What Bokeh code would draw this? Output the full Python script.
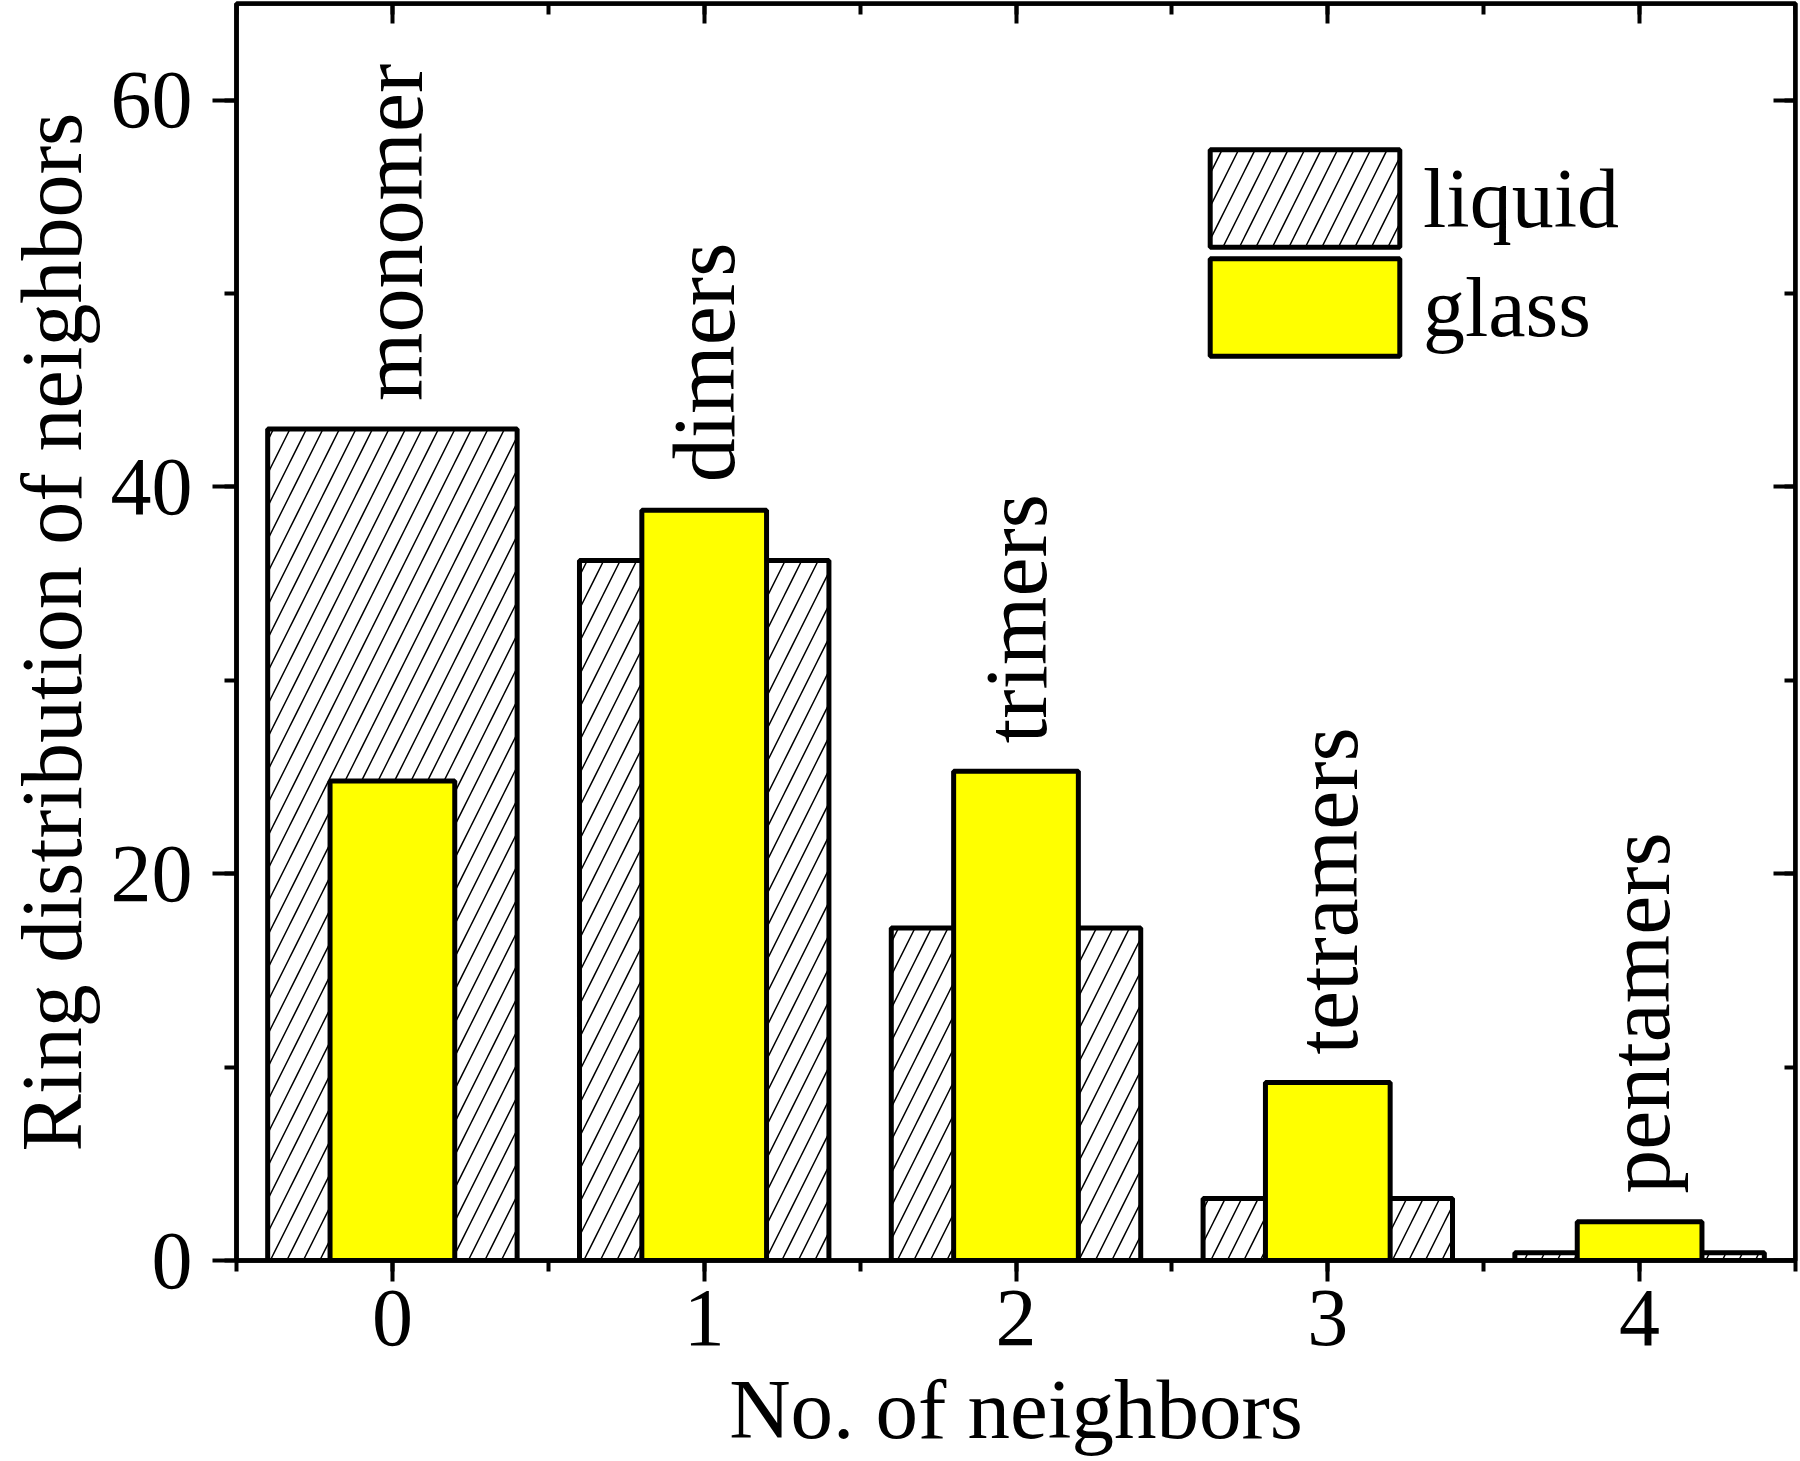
import numpy as np
from bokeh.plotting import figure
from bokeh.models import (ColumnDataSource, LinearAxis, SingleIntervalTicker, Range1d,
                          Legend, LegendItem, CustomJSTickFormatter)
from bokeh.core.properties import value
from bokeh.embed import file_html
from bokeh.resources import INLINE

# ---- data ----
neighbors = [0, 1, 2, 3, 4]
liquid = [43.0, 36.2, 17.2, 3.2, 0.4]
glass = [24.8, 38.8, 25.3, 9.2, 2.0]
cluster_names = ["monomer", "dimers", "trimers", "tetramers", "pentamers"]
series_names = ["liquid", "glass"]
x_label = "No. of neighbors"
y_label = "Ring distribution of neighbors"

FONT = "Liberation Serif"
LABEL_PAD = 1.45  # data units above the taller bar
X0, X1 = -0.5, 4.5
Y0, Y1 = 0, 65

src = ColumnDataSource(dict(
    x=neighbors,
    liquid=liquid,
    glass=glass,
    name=cluster_names,
    label_y=list(np.maximum(liquid, glass) + LABEL_PAD),
))

p = figure(width=1800, height=1461,
           x_range=Range1d(X0, X1), y_range=Range1d(Y0, Y1),
           output_backend="svg", toolbar_location=None,
           min_border_left=236, min_border_right=5,
           min_border_top=3, min_border_bottom=201,
           x_axis_label=x_label, y_axis_label=y_label)

p.xgrid.visible = False
p.ygrid.visible = False
p.outline_line_color = "black"
p.outline_line_width = 4.5
p.background_fill_color = "white"
p.border_fill_color = "white"

r_liq = p.vbar(x="x", top="liquid", width=0.8, source=src,
               fill_color="white", line_color="black", line_width=5,
               hatch_pattern="/", hatch_color="black", hatch_scale=33,
               hatch_weight=1.5)
r_gl = p.vbar(x="x", top="glass", width=0.4, source=src,
              fill_color="#FFFF00", line_color="black", line_width=5)

p.text(x="x", y="label_y", text="name", source=src, angle=np.pi / 2,
       text_align="left", text_baseline="middle",
       text_font=value(FONT), text_font_size="88px", text_color="black")

def style_axis(ax, out=True, major_len=21, minor_len=11):
    ax.axis_line_width = 4.5
    ax.axis_line_color = "black"
    ax.major_tick_line_width = 4
    ax.minor_tick_line_width = 4
    ax.major_tick_line_color = "black"
    ax.minor_tick_line_color = "black"
    if out:
        ax.major_tick_out = major_len
        ax.major_tick_in = 0
        ax.minor_tick_out = minor_len
        ax.minor_tick_in = 0
    else:
        ax.major_tick_out = 0
        ax.major_tick_in = major_len
        ax.minor_tick_out = 0
        ax.minor_tick_in = minor_len

xa = p.xaxis[0]
xa.ticker = SingleIntervalTicker(interval=1, num_minor_ticks=2)
style_axis(xa, True, 21, 11)
xa.major_label_text_font = FONT
xa.major_label_text_font_size = "82px"
xa.major_label_text_color = "black"
xa.major_label_standoff = 9
xa.axis_label_text_font = FONT
xa.axis_label_text_font_size = "85px"
xa.axis_label_text_font_style = "normal"
xa.axis_label_text_color = "black"
xa.axis_label_standoff = 14

ya = p.yaxis[0]
ya.ticker = SingleIntervalTicker(interval=20, num_minor_ticks=2)
style_axis(ya, True, 24, 12)
ya.major_label_text_font = FONT
ya.major_label_text_font_size = "82px"
ya.major_label_text_color = "black"
ya.major_label_standoff = 20
ya.axis_label_text_font = FONT
ya.axis_label_text_font_size = "86px"
ya.axis_label_text_font_style = "normal"
ya.axis_label_text_color = "black"
ya.axis_label_standoff = 8

# mirrored axes on top and right, ticks pointing inward, no labels
ta = LinearAxis(ticker=SingleIntervalTicker(interval=1, num_minor_ticks=2),
                formatter=CustomJSTickFormatter(code="return ''"),
                major_label_standoff=0, fixed_location=Y1)
style_axis(ta, False, 20, 11)
p.add_layout(ta, "above")

ra = LinearAxis(ticker=SingleIntervalTicker(interval=20, num_minor_ticks=2),
                formatter=CustomJSTickFormatter(code="return ''"),
                major_label_standoff=0, fixed_location=X1)
style_axis(ra, False, 22, 11)
p.add_layout(ra, "right")

legend_style = dict(glyph_width=237, glyph_height=122, label_standoff=0,
                    padding=0, margin=0, border_line_color=None,
                    background_fill_alpha=0, label_text_font=FONT,
                    label_text_font_size="84px", label_text_color="black")
leg1 = Legend(items=[LegendItem(label=series_names[0], renderers=[r_liq])],
              location=(950, 1001), **legend_style)
leg2 = Legend(items=[LegendItem(label=series_names[1], renderers=[r_gl])],
              location=(950, 892), **legend_style)
p.add_layout(leg1)
p.add_layout(leg2)

open("out.html", "w").write(file_html(p, INLINE))
